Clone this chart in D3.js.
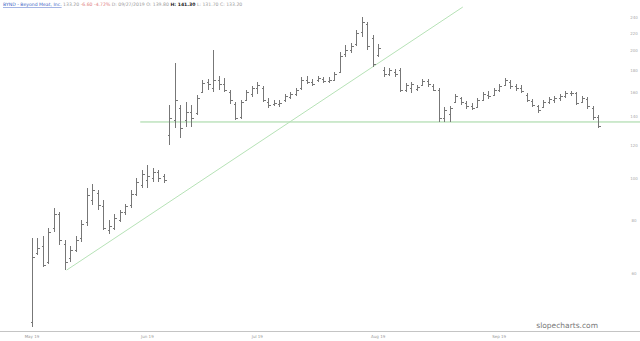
<!DOCTYPE html>
<html>
<head>
<script src="https://d3js.org/d3.v7.min.js"></script>
<style>
  body { margin: 0; background: #fff; }
  svg { display: block; }
</style>
</head>
<body>
<div id="chart"></div>
<script>
// daily OHLC (one entry per trading day)
const openP = [46.2,67.0,69.6,63.8,76.7,82.7,70.4,65.2,68.1,72.7,
  79.2,89.3,92.7,86.4,75.9,76.7,80.1,83.7,86.9,92.2,
  96.8,99.5,100.6,103.9,101.6,126.8,137.6,146.8,137.6,143.6,
  142.8,160.1,168.9,163.6,170.8,167.1,160.1,150.0,139.8,153.3,
  158.4,163.6,163.6,151.6,150.0,150.0,153.3,155.8,158.4,163.6,
  170.8,168.9,170.8,171.7,169.9,170.8,178.3,196.6,200.8,207.4,
  221.4,231.1,214.3,195.5,180.3,176.5,178.3,180.3,161.8,163.6,
  162.7,166.2,169.9,165.3,161.8,139.1,142.1,151.6,155.0,150.8,
  148.4,147.6,153.3,157.5,157.5,161.8,166.2,168.9,165.3,163.6,
  157.5,152.5,148.4,147.6,151.6,153.3,155.0,156.6,159.2,159.2,
  151.6,154.1,146.8,139.8];
const highP = [72.7,72.7,73.5,76.7,85.5,83.7,71.9,69.6,73.5,80.1,
  95.2,97.3,94.2,89.3,80.1,82.7,84.6,87.4,94.2,100.6,
  105.0,107.9,106.1,105.0,102.8,149.2,187.2,149.2,151.6,149.2,
  157.5,170.8,171.7,200.8,174.6,173.1,161.8,151.6,153.3,161.8,
  165.3,168.9,165.3,155.0,153.3,153.3,158.4,160.1,163.6,173.6,
  174.6,171.7,174.6,173.6,173.6,178.3,198.6,206.3,208.5,223.8,
  240.0,233.6,217.8,207.4,183.2,182.3,181.3,182.3,168.0,168.9,
  166.2,171.7,171.7,167.1,163.6,147.6,148.4,158.4,155.8,152.5,
  150.8,155.0,160.1,161.0,163.6,167.1,172.7,170.8,167.1,166.2,
  159.2,154.1,149.2,153.3,155.8,156.6,158.4,161.0,161.0,160.1,
  156.6,155.8,148.4,141.3];
const lowP = [44.9,66.3,62.1,63.1,75.1,70.0,61.1,63.8,67.4,71.1,
  77.6,86.9,84.6,75.9,74.3,75.9,79.2,82.3,85.5,91.2,
  95.2,95.2,98.4,98.4,97.9,120.2,131.7,124.8,132.4,132.4,
  141.3,159.2,161.8,160.1,161.8,160.1,150.0,137.6,138.3,152.5,
  155.8,158.4,151.6,146.8,148.4,147.6,151.6,154.1,156.6,161.8,
  167.1,165.3,168.9,168.0,168.0,169.9,177.4,193.4,197.6,205.2,
  215.4,200.8,183.2,193.4,173.6,174.6,173.6,160.1,160.1,159.2,
  161.0,165.3,164.4,161.0,136.1,136.1,136.1,150.8,149.2,146.0,
  145.2,146.8,152.5,154.1,156.6,160.1,165.3,162.7,161.0,159.2,
  151.6,147.6,142.8,146.8,150.0,150.8,152.5,155.0,156.6,149.2,
  150.8,146.0,137.6,131.7];
const closeP = [65.6,68.8,62.8,75.1,82.7,71.9,63.8,68.1,71.9,78.4,
  91.7,94.2,86.9,76.7,77.6,81.0,83.7,86.4,92.2,98.4,
  102.8,101.6,103.9,100.6,99.5,139.1,153.3,131.7,143.6,139.1,
  155.0,168.0,167.1,170.8,167.1,161.8,153.3,139.1,151.6,160.1,
  163.6,166.2,153.3,149.2,150.8,150.8,156.6,158.4,161.8,170.8,
  168.9,167.1,172.7,169.9,170.8,176.5,194.4,200.8,205.2,220.2,
  233.6,205.2,186.2,203.0,176.5,180.3,176.5,161.8,166.2,167.1,
  164.4,169.9,167.1,161.8,139.1,145.2,146.8,156.6,151.6,148.4,
  146.8,153.3,158.4,156.6,161.8,165.3,170.8,165.3,163.6,161.0,
  153.3,149.2,145.2,151.6,154.1,155.0,156.6,159.2,159.2,150.8,
  155.0,148.4,139.8,133.2];

// x axis: month labels and the bar index where each month starts
const monthLabels = ["May 19", "Jun 19", "Jul 19", "Aug 19", "Sep 19"];
const monthStart = [0, 21, 41, 63, 85];
const priceTicks = [60, 80, 100, 120, 140, 160, 180, 200, 220, 240];

// drawn lines: rising trend line (bar index, price) and flat support level
const trendIdx = [6.3, 78.4];
const trendPrice = [61.1, 253.4];
const supportFrom = 19.7;
const supportPrice = 136.1;

const width = 640, height = 341;

const svg = d3.select("#chart").append("svg")
  .attr("width", width)
  .attr("height", height);

const x = d3.scaleLinear().domain([0, openP.length - 1]).range([32, 598]);
const y = d3.scaleLog().domain([44.2, 263.2]).range([330, 0]);

const px = v => Math.round(v) + 0.5;

// title line
const title = svg.append("text")
  .attr("x", 3).attr("y", 6)
  .style("font-family", "DejaVu Sans, sans-serif")
  .style("font-size", "4.6px");
title.append("tspan").attr("fill", "#3b5fc4").style("text-decoration", "underline")
  .text("BYND - Beyond Meat, Inc.");
title.append("tspan").attr("fill", "#999").text("  133.20");
title.append("tspan").attr("fill", "#e08080").text(" -6.60 -4.72%");
title.append("tspan").attr("fill", "#999").text("  D: 09/27/2019  O: 139.80");
title.append("tspan").attr("fill", "#222").style("font-weight", "bold").text("  H: 141.30");
title.append("tspan").attr("fill", "#999").text("  L: 131.70  C: 133.20");

// bottom axis line
svg.append("line")
  .attr("x1", 0).attr("x2", width)
  .attr("y1", 331.5).attr("y2", 331.5)
  .attr("stroke", "#c4c4c4").attr("stroke-width", 1);

svg.selectAll(".mlabel")
  .data(monthLabels)
  .enter().append("text")
  .attr("class", "mlabel")
  .attr("x", (d, i) => x(monthStart[i]))
  .attr("y", 338)
  .attr("text-anchor", "middle")
  .attr("fill", "#999")
  .style("font-family", "DejaVu Sans, sans-serif")
  .style("font-size", "4px")
  .text(d => d);

// price labels on the right
svg.selectAll(".plabel")
  .data(priceTicks)
  .enter().append("text")
  .attr("class", "plabel")
  .attr("x", 634)
  .attr("y", d => y(d) + 1.5)
  .attr("text-anchor", "middle")
  .attr("fill", "#aaa")
  .style("font-family", "DejaVu Sans, sans-serif")
  .style("font-size", "4px")
  .text(d => d);

// support level
svg.append("line")
  .attr("x1", x(supportFrom)).attr("x2", width)
  .attr("y1", y(supportPrice)).attr("y2", y(supportPrice))
  .attr("stroke", "#9ed49e").attr("stroke-width", 1);

// trend line
svg.append("line")
  .attr("x1", x(trendIdx[0])).attr("y1", y(trendPrice[0]))
  .attr("x2", x(trendIdx[1])).attr("y2", y(trendPrice[1]))
  .attr("stroke", "#b6e2b6").attr("stroke-width", 1);

// OHLC bars
const bars = svg.append("g")
  .attr("stroke", "#777")
  .attr("stroke-width", 1)
  .attr("shape-rendering", "crispEdges");

openP.forEach((o, i) => {
  const cx = px(x(i));
  const g = bars.append("g");
  g.append("line").attr("x1", cx).attr("x2", cx)
    .attr("y1", y(highP[i])).attr("y2", y(lowP[i]));
  g.append("line").attr("x1", cx - 2).attr("x2", cx)
    .attr("y1", px(y(o))).attr("y2", px(y(o)));
  g.append("line").attr("x1", cx).attr("x2", cx + 2)
    .attr("y1", px(y(closeP[i]))).attr("y2", px(y(closeP[i])));
});

// watermark
svg.append("text")
  .attr("x", 598).attr("y", 328)
  .attr("text-anchor", "end")
  .attr("fill", "#777")
  .style("font-family", "DejaVu Sans, sans-serif")
  .style("font-size", "7.5px")
  .text("slopecharts.com");
</script>
</body>
</html>
